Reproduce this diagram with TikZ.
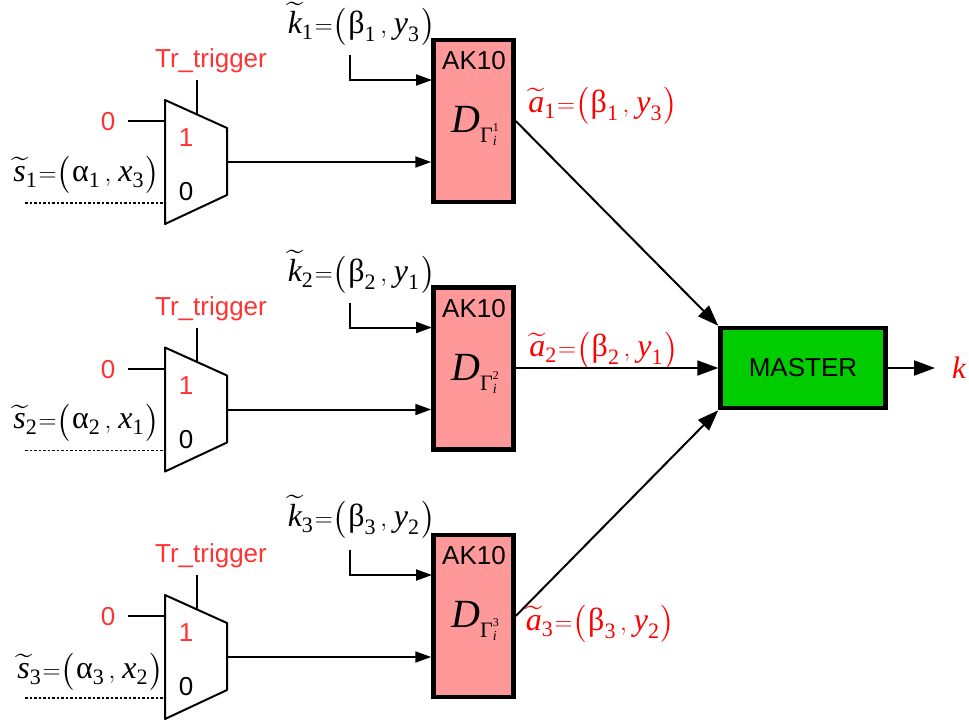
\documentclass[tikz,border=0pt]{standalone}
\usepackage{amsmath, amssymb}
\usepackage{fontspec}
\setmainfont{Liberation Sans}
\newfontfamily\serifvar{Liberation Serif}
\usetikzlibrary{arrows.meta, positioning}

\definecolor{keybox}{RGB}{255,153,153}
\definecolor{masterbox}{RGB}{0,204,0}
\definecolor{softred}{RGB}{255,51,51}

% one label: letter, index, greek, index, letter, index
\newcommand{\pairlab}[6]{%
  $\widetilde{\mbox{\fontsize{32}{34}\serifvar\itshape #1}}%
  _{\mbox{\fontsize{22}{23}\serifvar #2}}%
  \mkern1mu{=}\bigl(\mkern1mu\mbox{\fontsize{32}{34}\serifvar #3}%
  _{\mbox{\fontsize{22}{23}\serifvar #4}}\mkern3mu{,}\mkern5mu%
  \mbox{\fontsize{32}{34}\serifvar\itshape #5}%
  _{\mbox{\fontsize{22}{23}\serifvar #6}}\mkern1mu\bigr)$}
\newcommand{\declab}[1]{%
  {\fontsize{40}{42}\serifvar\itshape D}%
  \raisebox{-10pt}{\fontsize{22}{24}\serifvar Γ}%
  \raisebox{-13pt}{\rlap{\fontsize{14}{15}\serifvar\itshape i}}%
  \raisebox{1pt}{\fontsize{12}{13}\serifvar #1}}

\begin{document}
\begin{tikzpicture}[x=1pt, y=-1pt, >={Triangle[length=16pt,width=11pt]},
    wire/.style={line width=2pt},
    bigtip/.style={-{Triangle[length=21pt,width=15pt]}, line width=2pt},
    sanslab/.style={font=\fontsize{26}{28}\selectfont, inner sep=0pt},
    redlab/.style={sanslab, text=softred},
    mathlab/.style={font=\fontsize{31}{33}\selectfont, inner sep=0pt},
    keynode/.style={draw, line width=4.5pt, fill=keybox, minimum width=80pt, minimum height=162pt, inner sep=0pt},
    masternode/.style={draw, line width=4.5pt, fill=masterbox, minimum width=165pt, minimum height=80pt, inner sep=0pt, font=\fontsize{26}{28}\selectfont}]
    \useasboundingbox (0,0) rectangle (969,724);

    \node[masternode] (master) at (803,368) {MASTER};

    % the three stages
    \foreach \i/\dy/\sx/\sy/\xsub/\ky/\ysub/\ax/\ay in {%
        1/0/86.5/175/3/24/3/603/106,
        2/247.5/86.5/175/1/24.5/1/604/103,
        3/495/90.5/177/2/22/2/600.5/129}{
    \begin{scope}[shift={(0,\dy)}]
        \coordinate (mux\i a) at (165,100);
        \coordinate (mux\i b) at (227,128);
        \coordinate (mux\i c) at (227,195);
        \coordinate (mux\i d) at (165,224);
        \draw[wire, line join=round] (mux\i a) -- (mux\i b) -- (mux\i c) -- (mux\i d) -- cycle;

        \node[redlab] (trig\i) at (211,61) {Tr\_trigger};
        \node[redlab] (zero\i) at (108,122) {0};
        \node[redlab] (one\i) at (186,138) {1};
        \node[sanslab] (low\i) at (186,192) {0};
        \node[mathlab] (s\i) at (\sx,\sy) {\pairlab{s}{\i}{α}{\i}{x}{\xsub}};
        \node[mathlab] (k\i) at (361.5,\ky) {\pairlab{k}{\i}{β}{\i}{y}{\ysub}};
        \node[mathlab, text=red] (a\i) at (\ax,\ay) {\pairlab{a}{\i}{β}{\i}{y}{\ysub}};

        \node[keynode] (dec\i) at (473.5,121) {};
        \node[sanslab] (ak\i) at (474,61) {AK10};
        \node[inner sep=0pt] (d\i) at (475,126) {\declab{\i}};

        \coordinate (trigtop\i) at (197,80);
        \coordinate (trigend\i) at (197,114.5);
        \coordinate (zerofree\i) at (128,121);
        \coordinate (zeroend\i) at (165,121);
        \coordinate (sfree\i) at (25,203);
        \coordinate (send\i) at (165,203);
        \coordinate (muxout\i) at (227,162);
        \coordinate (kfree\i) at (350,55);
        \coordinate (kbend\i) at (350,80);
        \coordinate (kend\i) at (432,80);

        \draw[wire] (trigtop\i) -- (trigend\i);
        \draw[wire] (zerofree\i) -- (zeroend\i);
        \draw[line width=1.2pt, dash pattern=on 2.5pt off 2pt] (sfree\i) -- (send\i);
        \draw[->, wire] (muxout\i) -- (muxout\i -| dec\i.west);
        \draw[->, wire] (kfree\i) -- (kbend\i) -- (kend\i);
    \end{scope}
    }

    \draw[bigtip] (dec1.east) -- (master.north west);
    \draw[bigtip] (master.west -| dec2.east) -- (master.west);
    \draw[bigtip] (dec3.east) -- (master.south west);

    \coordinate (kout) at (935,368);
    \draw[bigtip] (master.east) -- (kout);
    \node[inner sep=0pt, text=red, font=\fontsize{31}{33}\serifvar\itshape] (result) at (959,368) {k};
\end{tikzpicture}
\end{document}
